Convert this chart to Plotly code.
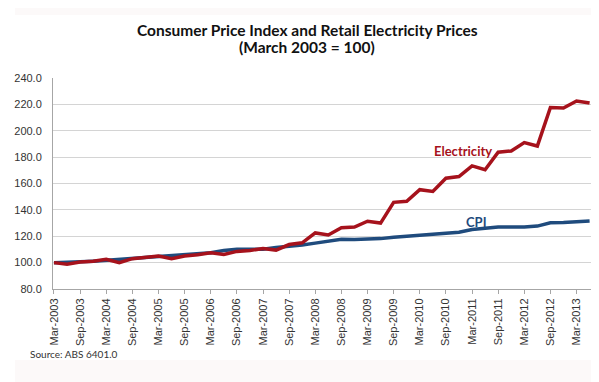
import plotly.graph_objects as go

quarters = []
for yr in range(2003, 2014):
    for m in ["Mar", "Jun", "Sep", "Dec"]:
        quarters.append(f"{m}-{yr}")
quarters = quarters[:42]  # Mar-2003 .. Jun-2013

electricity = [100.0, 98.7, 100.5, 101.0, 102.5, 100.0, 103.0, 103.7, 105.0, 103.0,
               105.0, 106.0, 107.5, 106.2, 108.5, 109.2, 110.7, 109.5, 113.7, 115.0,
               122.5, 121.0, 126.4, 127.0, 131.4, 130.0, 145.7, 146.5, 155.3, 154.0,
               164.0, 165.3, 173.4, 170.4, 183.7, 184.7, 191.0, 188.4, 217.6, 217.3,
               222.6, 221.0]
cpi = [100.0, 100.0, 100.6, 101.1, 101.8, 102.5, 102.9, 103.7, 104.4, 105.0,
       106.0, 106.6, 107.5, 109.2, 110.2, 110.1, 110.1, 111.5, 112.2, 113.3,
       114.8, 116.5, 117.8, 117.5, 117.6, 118.2, 119.3, 120.0, 121.0, 121.8,
       122.6, 123.1, 125.1, 126.2, 127.0, 127.0, 127.0, 127.7, 130.2, 130.5,
       130.9, 131.6]
tick_labels = quarters[0:41:2]
y_ticks = [80, 100, 120, 140, 160, 180, 200, 220, 240]

font_main = "Liberation Sans, Arial, sans-serif"
font_cal = "Lato, sans-serif"

# page has an 8px body margin; work in window pixels and offset
OFF = 8
W, H = 599 - OFF, 382 - OFF
L, T = 39 - OFF, 78 - OFF
R = W - (593 - OFF)
B = H - (289 - OFF)
pw, ph = W - L - R, H - T - B


def px(x):
    return (x - OFF - L) / pw


def py(y):
    return (H - B - (y - OFF)) / ph


fig = go.Figure()
fig.add_trace(go.Scatter(x=quarters, y=cpi, mode="lines", name="CPI",
                         line=dict(color="#1f4b7d", width=3.5)))
fig.add_trace(go.Scatter(x=quarters, y=electricity, mode="lines", name="Electricity",
                         line=dict(color="#a6121c", width=3.5)))


def ann(text, x, y, size, color, xanchor="center"):
    return dict(text=text, x=px(x), y=py(y), xref="paper", yref="paper",
                xanchor=xanchor, yanchor="middle", showarrow=False,
                font=dict(family=font_cal, size=size, color=color))


fig.update_layout(
    width=W, height=H,
    margin=dict(l=L, r=R, t=T, b=B),
    paper_bgcolor="white", plot_bgcolor="white",
    showlegend=False,
    xaxis=dict(type="category", categoryorder="array", categoryarray=quarters,
               range=[-0.075, 41.26], tickmode="array", tickvals=tick_labels, ticktext=tick_labels,
               tickangle=-90, ticks="outside", ticklen=4, tickcolor="#a6a6a6",
               showline=True, linecolor="#a6a6a6", linewidth=1, showgrid=False,
               tickfont=dict(family=font_main, size=11, color="#333333")),
    yaxis=dict(range=[80, 240], tickvals=y_ticks, tickformat=".1f",
               showline=True, linecolor="#a6a6a6", linewidth=1,
               showgrid=True, gridcolor="#d4d4d4", gridwidth=1, zeroline=False,
               ticks="", ticklabelstandoff=8,
               tickfont=dict(family=font_main, size=11, color="#333333")),
    annotations=[
        ann("<b>Consumer Price Index and Retail Electricity Prices</b>", 300, 30, 15.5, "#111111"),
        ann("<b>(March 2003 = 100)</b>", 300, 47, 15.5, "#111111"),
        ann("<b>Electricity</b>", 460, 151, 13, "#a6121c"),
        ann("<b>CPI</b>", 473, 222, 13, "#1f4b7d"),
        ann("Source: ABS 6401.0", 13, 354, 10, "#333333", xanchor="left"),
    ],
)

fig.add_shape(type="rect", xref="paper", yref="paper", x0=px(0), x1=px(610),
              y0=py(0), y1=py(15), fillcolor="#fcf9f9", line_width=0, layer="below")
fig.add_shape(type="rect", xref="paper", yref="paper", x0=px(0), x1=px(610),
              y0=py(360), y1=py(400), fillcolor="#fcf9f9", line_width=0, layer="below")

fig.write_html("out.html")
